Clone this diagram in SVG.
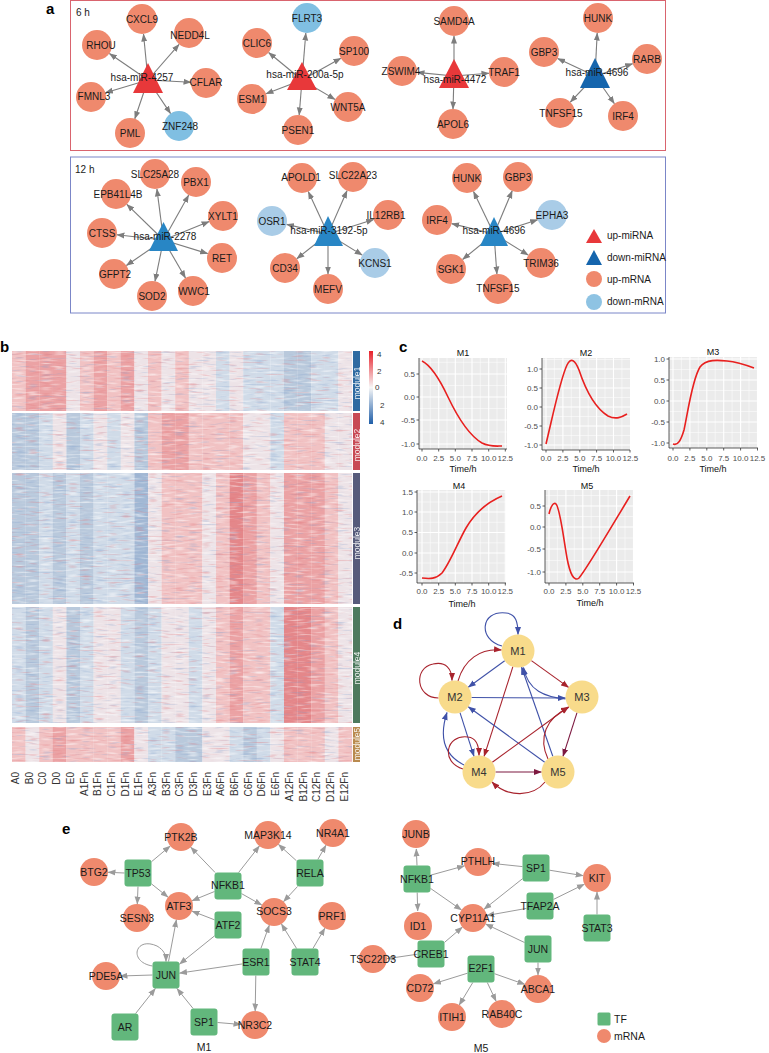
<svg xmlns="http://www.w3.org/2000/svg" xmlns:xlink="http://www.w3.org/1999/xlink" width="769" height="1053" viewBox="0 0 769 1053">
<style>
text{font-family:"Liberation Sans",Arial,Helvetica,sans-serif}
.pl{font-size:15px;font-weight:bold;fill:#000}
.nl{font-size:10px;fill:#1a1a1a;text-anchor:middle;dominant-baseline:central}
.el{font-size:10.5px;fill:#1a1a1a;text-anchor:middle;dominant-baseline:central}
.lg{font-size:10px;fill:#1a1a1a;dominant-baseline:central}
.up{fill:#ef896d}
.dA{fill:#80bfe2}
.dB{fill:#a9cce7}
.tu{fill:#e8383a}
.td{fill:#1565ad}
.tb{fill:#2886c5}
.ea path{fill:none;stroke:#7d7d7d;stroke-width:1.1;marker-end:url(#ma)}
.ee path{fill:none;stroke:#9b9b9b;stroke-width:1;marker-end:url(#me)}
.tf{fill:#62b77c}
.mo{fill:#f8db8b}
.ml{font-size:11px;fill:#333;text-anchor:middle;dominant-baseline:central}
.db{fill:none;stroke:#3f51a8;stroke-width:1.1;marker-end:url(#mb)}
.dr{fill:none;stroke:#a8232d;stroke-width:1.1;marker-end:url(#mr)}
.dp{fill:none;stroke:#7d1940;stroke-width:1.1;marker-end:url(#mp)}
.gb{fill:#ebebeb}
.gn{stroke:#fff;stroke-width:0.5;fill:none}
.gj{stroke:#fff;stroke-width:1.1;fill:none}
.ax{stroke:#333;stroke-width:0.8;fill:none}
.ty{font-size:8px;fill:#4d4d4d;text-anchor:end;dominant-baseline:central}
.tx{font-size:8px;fill:#4d4d4d;text-anchor:middle;dominant-baseline:central}
.tt{font-size:9px;fill:#111;text-anchor:middle;dominant-baseline:central}
.cv{fill:none;stroke:#e8201f;stroke-width:1.6}
.cl{font-size:10px;fill:#333;text-anchor:end}
.a{fill:#e4878a}.b{fill:#eba2a4}.c{fill:#f1c2c3}.d{fill:#ede3e7}.e{fill:#d0dbe8}.f{fill:#b9c9dc}.g{fill:#a2b8d4}
.mb{font-size:8.5px;fill:#fff;text-anchor:middle;dominant-baseline:central;opacity:0.9}
.cb{font-size:8px;fill:#333;dominant-baseline:central}
</style>
<defs>
<marker id="ma" markerWidth="8" markerHeight="7" refX="7.5" refY="3.5" orient="auto" markerUnits="userSpaceOnUse"><path d="M0,0.5 L8,3.5 L0,6.5 z" fill="#7d7d7d"/></marker>
<marker id="me" markerWidth="8" markerHeight="7" refX="7.5" refY="3.5" orient="auto" markerUnits="userSpaceOnUse"><path d="M0,0.5 L8,3.5 L0,6.5 z" fill="#9b9b9b"/></marker>
<marker id="mb" markerWidth="8" markerHeight="7" refX="7.5" refY="3.5" orient="auto" markerUnits="userSpaceOnUse"><path d="M0,0.5 L8,3.5 L0,6.5 z" fill="#3f51a8"/></marker>
<marker id="mr" markerWidth="8" markerHeight="7" refX="7.5" refY="3.5" orient="auto" markerUnits="userSpaceOnUse"><path d="M0,0.5 L8,3.5 L0,6.5 z" fill="#a8232d"/></marker>
<marker id="mp" markerWidth="8" markerHeight="7" refX="7.5" refY="3.5" orient="auto" markerUnits="userSpaceOnUse"><path d="M0,0.5 L8,3.5 L0,6.5 z" fill="#7d1940"/></marker>
<rect id="hc" width="13.75" height="1"/>
<linearGradient id="cbg" x1="0" y1="0" x2="0" y2="1"><stop offset="0" stop-color="#e8202a"/><stop offset="0.5" stop-color="#f7f7f7"/><stop offset="1" stop-color="#1f5ea8"/></linearGradient>
<filter id="nz" x="0" y="0" width="1" height="1" color-interpolation-filters="sRGB">
<feTurbulence type="fractalNoise" baseFrequency="0.075 0.5" numOctaves="1" seed="7" result="t"/>
<feColorMatrix in="t" type="matrix" values="0 0 0 0 1 0 0 0 0 1 0 0 0 0 1 3 0 0 0 -1.5" result="w"/>
<feColorMatrix in="t" type="matrix" values="0 0 0 0 0.5 0 0 0 0 0.62 0 0 0 0 0.8 0 2.5 0 0 -1.45" result="bl"/>
<feColorMatrix in="t" type="matrix" values="0 0 0 0 0.88 0 0 0 0 0.45 0 0 0 0 0.47 0 0 2.5 0 -1.45" result="rd"/>
<feMerge><feMergeNode in="w"/><feMergeNode in="bl"/><feMergeNode in="rd"/></feMerge>
</filter>
</defs>
<rect width="769" height="1053" fill="#fff"/>

<!-- Panel a -->
<g id="panel-a">
<text class="pl" x="46" y="14">a</text>
<rect x="70.5" y="0.5" width="595" height="150" fill="none" stroke="#d9646e" stroke-width="1"/>
<rect x="70.5" y="157" width="595" height="156" fill="none" stroke="#7b86c8" stroke-width="1"/>
<text class="lg" x="76" y="12">6 h</text>
<text class="lg" x="75" y="169">12 h</text>
</g>
<g id="edges-a" class="ea">
<path d="M148 80L143.5 34"/><path d="M148 80L179.1 44.3"/><path d="M148 80L109.4 53.5"/><path d="M148 80L191 82.2"/><path d="M148 80L105.4 92.7"/><path d="M148 80L134.8 118.8"/><path d="M148 80L170.6 113.6"/>
<path d="M302 80L305.8 33"/><path d="M302 80L268.6 52.5"/><path d="M302 80L340.9 58.3"/><path d="M302 80L266 93.7"/><path d="M302 80L335 99.4"/><path d="M302 80L299.2 115"/>
<path d="M454 76L454 36"/><path d="M454 76L417 72.4"/><path d="M454 76L489 73.2"/><path d="M454 76L453 109"/>
<path d="M595 76L597.2 33"/><path d="M595 76L557.6 58.4"/><path d="M595 76L632.7 63.7"/><path d="M595 76L570.3 102.1"/><path d="M595 76L614.4 103.7"/>
<path d="M163.5 240L156.9 188.9"/><path d="M163.5 240L188.7 195.1"/><path d="M163.5 240L126.8 204.4"/><path d="M163.5 240L209.1 221.6"/><path d="M163.5 240L116.9 234.7"/><path d="M163.5 240L207.7 253.6"/><path d="M163.5 240L126.4 265.5"/><path d="M163.5 240L155 281.3"/><path d="M163.5 240L185.5 278"/>
<path d="M328 234L308.3 191.6"/><path d="M328 234L347 190.7"/><path d="M328 234L286.6 224.4"/><path d="M328 234L373.7 219.5"/><path d="M328 234L362.2 255.1"/><path d="M328 234L296.8 258.7"/><path d="M328 234L328 274"/>
<path d="M494 234L473.5 191.5"/><path d="M494 234L512.2 190.8"/><path d="M494 234L451.6 223.6"/><path d="M494 234L537.7 219.7"/><path d="M494 234L462.6 259.5"/><path d="M494 234L528.2 255.1"/><path d="M494 234L496.9 274"/>
</g>
<g id="a-6h-miR-4257">
<g id="n-CXCL9"><circle class="up" cx="142" cy="19" r="15"/><text class="nl" x="142" y="19">CXCL9</text></g>
<g id="n-NEDD4L"><circle class="up" cx="189" cy="33" r="15"/><text class="nl" x="190" y="35">NEDD4L</text></g>
<g id="n-RHOU"><circle class="up" cx="97" cy="45" r="15"/><text class="nl" x="101" y="45">RHOU</text></g>
<g id="n-CFLAR"><circle class="up" cx="206" cy="83" r="15"/><text class="nl" x="206" y="82">CFLAR</text></g>
<g id="n-FMNL3"><circle class="up" cx="91" cy="97" r="15"/><text class="nl" x="94" y="96">FMNL3</text></g>
<g id="n-PML"><circle class="up" cx="130" cy="133" r="15"/><text class="nl" x="130" y="133">PML</text></g>
<g id="n-ZNF248"><circle class="dA" cx="179" cy="126" r="15"/><text class="nl" x="180" y="126">ZNF248</text></g>
<g id="n-miR-4257"><polygon class="tu" points="148,63 133,93 163,93"/><text class="nl" x="142" y="77">hsa-miR-4257</text></g>
</g>
<g id="a-6h-miR-200a">
<g id="n-FLRT3"><circle class="dA" cx="307" cy="18" r="15"/><text class="nl" x="307" y="18">FLRT3</text></g>
<g id="n-CLIC6"><circle class="up" cx="257" cy="43" r="15"/><text class="nl" x="257" y="43">CLIC6</text></g>
<g id="n-SP100"><circle class="up" cx="354" cy="51" r="15"/><text class="nl" x="354" y="51">SP100</text></g>
<g id="n-ESM1"><circle class="up" cx="252" cy="99" r="15"/><text class="nl" x="252" y="99">ESM1</text></g>
<g id="n-WNT5A"><circle class="up" cx="348" cy="107" r="15"/><text class="nl" x="348" y="107">WNT5A</text></g>
<g id="n-PSEN1"><circle class="up" cx="298" cy="130" r="15"/><text class="nl" x="298" y="130">PSEN1</text></g>
<g id="n-miR-200a"><polygon class="tu" points="302,62 287,90 317,90"/><text class="nl" x="305" y="74">hsa-miR-200a-5p</text></g>
</g>
<g id="a-6h-miR-4472">
<g id="n-SAMD4A"><circle class="up" cx="454" cy="21" r="15"/><text class="nl" x="454" y="21">SAMD4A</text></g>
<g id="n-ZSWIM4"><circle class="up" cx="402" cy="71" r="15"/><text class="nl" x="401" y="71">ZSWIM4</text></g>
<g id="n-TRAF1"><circle class="up" cx="504" cy="72" r="15"/><text class="nl" x="504" y="72">TRAF1</text></g>
<g id="n-APOL6"><circle class="up" cx="453" cy="124" r="15"/><text class="nl" x="453" y="124">APOL6</text></g>
<g id="n-miR-4472"><polygon class="tu" points="454,59 439,88 469,88"/><text class="nl" x="455" y="79">hsa-miR-4472</text></g>
</g>
<g id="a-6h-miR-4696">
<g id="n-HUNK6"><circle class="up" cx="598" cy="18" r="15"/><text class="nl" x="598" y="18">HUNK</text></g>
<g id="n-GBP36"><circle class="up" cx="544" cy="52" r="15"/><text class="nl" x="544" y="52">GBP3</text></g>
<g id="n-RARB"><circle class="up" cx="647" cy="59" r="15"/><text class="nl" x="647" y="59">RARB</text></g>
<g id="n-TNFSF156"><circle class="up" cx="560" cy="113" r="15"/><text class="nl" x="561" y="113">TNFSF15</text></g>
<g id="n-IRF46"><circle class="up" cx="623" cy="116" r="15"/><text class="nl" x="623" y="116">IRF4</text></g>
<g id="n-miR-4696-6"><polygon class="td" points="595,58 580,88 610,88"/><text class="nl" x="597" y="72">hsa-miR-4696</text></g>
</g>
<g id="a-12h-miR-2278">
<g id="n-SLC25A28"><circle class="up" cx="155" cy="174" r="15"/><text class="nl" x="155" y="174">SLC25A28</text></g>
<g id="n-PBX1"><circle class="up" cx="196" cy="182" r="15"/><text class="nl" x="196" y="182">PBX1</text></g>
<g id="n-EPB41L4B"><circle class="up" cx="116" cy="194" r="15"/><text class="nl" x="118" y="194">EPB41L4B</text></g>
<g id="n-XYLT1"><circle class="up" cx="223" cy="216" r="15"/><text class="nl" x="223" y="216">XYLT1</text></g>
<g id="n-CTSS"><circle class="up" cx="102" cy="233" r="15"/><text class="nl" x="102" y="233">CTSS</text></g>
<g id="n-RET"><circle class="up" cx="222" cy="258" r="15"/><text class="nl" x="222" y="258">RET</text></g>
<g id="n-GFPT2"><circle class="up" cx="114" cy="274" r="15"/><text class="nl" x="115" y="274">GFPT2</text></g>
<g id="n-SOD2"><circle class="up" cx="152" cy="296" r="15"/><text class="nl" x="152" y="296">SOD2</text></g>
<g id="n-WWC1"><circle class="up" cx="193" cy="291" r="15"/><text class="nl" x="194" y="291">WWC1</text></g>
<g id="n-miR-2278"><polygon class="tb" points="163.5,222 149,251 178,251"/><text class="nl" x="165" y="236">hsa-miR-2278</text></g>
</g>
<g id="a-12h-miR-3192">
<g id="n-APOLD1"><circle class="up" cx="302" cy="178" r="15"/><text class="nl" x="301" y="177">APOLD1</text></g>
<g id="n-SLC22A23"><circle class="up" cx="353" cy="177" r="15"/><text class="nl" x="353" y="175">SLC22A23</text></g>
<g id="n-OSR1"><circle class="dB" cx="272" cy="221" r="15"/><text class="nl" x="272" y="221">OSR1</text></g>
<g id="n-IL12RB1"><circle class="up" cx="388" cy="215" r="15"/><text class="nl" x="386" y="215">IL12RB1</text></g>
<g id="n-KCNS1"><circle class="dB" cx="375" cy="263" r="15"/><text class="nl" x="375" y="263">KCNS1</text></g>
<g id="n-CD34"><circle class="up" cx="285" cy="268" r="15"/><text class="nl" x="285" y="268">CD34</text></g>
<g id="n-MEFV"><circle class="up" cx="328" cy="289" r="15"/><text class="nl" x="328" y="289">MEFV</text></g>
<g id="n-miR-3192"><polygon class="tb" points="328,216 314,246 343,246"/><text class="nl" x="329" y="230">hsa-miR-3192-5p</text></g>
</g>
<g id="a-12h-miR-4696">
<g id="n-HUNK12"><circle class="up" cx="467" cy="178" r="15"/><text class="nl" x="467" y="178">HUNK</text></g>
<g id="n-GBP312"><circle class="up" cx="518" cy="177" r="15"/><text class="nl" x="518" y="177">GBP3</text></g>
<g id="n-IRF412"><circle class="up" cx="437" cy="220" r="15"/><text class="nl" x="437" y="220">IRF4</text></g>
<g id="n-EPHA3"><circle class="dB" cx="552" cy="215" r="15"/><text class="nl" x="552" y="215">EPHA3</text></g>
<g id="n-SGK1"><circle class="up" cx="451" cy="269" r="15"/><text class="nl" x="451" y="269">SGK1</text></g>
<g id="n-TRIM36"><circle class="up" cx="541" cy="263" r="15"/><text class="nl" x="541" y="263">TRIM36</text></g>
<g id="n-TNFSF1512"><circle class="up" cx="498" cy="289" r="15"/><text class="nl" x="498" y="288">TNFSF15</text></g>
<g id="n-miR-4696-12"><polygon class="tb" points="494,217 480,246 508,246"/><text class="nl" x="494" y="230">hsa-miR-4696</text></g>
</g>
<g id="legend-a">
<polygon class="tu" points="594,229 586,243 602,243"/><text class="lg" x="607" y="235">up-miRNA</text>
<polygon class="td" points="594,250 586,265 602,265"/><text class="lg" x="607" y="257">down-miRNA</text>
<circle class="up" cx="594" cy="279" r="8"/><text class="lg" x="607" y="279">up-mRNA</text>
<circle fill="#8ec3e3" cx="594" cy="302" r="8"/><text class="lg" x="607" y="301">down-mRNA</text>
</g>

<!-- Panel b -->
<g id="panel-b">
<text class="pl" x="0" y="352">b</text>
<g transform="translate(0,351) scale(1,60)">
<use href="#hc" x="12" class="c"/><use href="#hc" x="25.6" class="b"/><use href="#hc" x="39.2" class="b"/><use href="#hc" x="52.8" class="b"/><use href="#hc" x="66.4" class="d"/><use href="#hc" x="80" class="c"/><use href="#hc" x="93.6" class="b"/><use href="#hc" x="107.2" class="c"/><use href="#hc" x="120.8" class="b"/><use href="#hc" x="134.4" class="d"/><use href="#hc" x="148" class="c"/><use href="#hc" x="161.6" class="d"/><use href="#hc" x="175.2" class="c"/><use href="#hc" x="188.8" class="d"/><use href="#hc" x="202.4" class="d"/><use href="#hc" x="216" class="e"/><use href="#hc" x="229.6" class="d"/><use href="#hc" x="243.2" class="e"/><use href="#hc" x="256.8" class="e"/><use href="#hc" x="270.4" class="e"/><use href="#hc" x="284" class="f"/><use href="#hc" x="297.6" class="f"/><use href="#hc" x="311.2" class="e"/><use href="#hc" x="324.8" class="e"/><use href="#hc" x="338.4" class="d"/>
</g>
<g transform="translate(0,413) scale(1,57)">
<use href="#hc" x="12" class="f"/><use href="#hc" x="25.6" class="f"/><use href="#hc" x="39.2" class="e"/><use href="#hc" x="52.8" class="d"/><use href="#hc" x="66.4" class="f"/><use href="#hc" x="80" class="e"/><use href="#hc" x="93.6" class="d"/><use href="#hc" x="107.2" class="e"/><use href="#hc" x="120.8" class="d"/><use href="#hc" x="134.4" class="f"/><use href="#hc" x="148" class="c"/><use href="#hc" x="161.6" class="b"/><use href="#hc" x="175.2" class="b"/><use href="#hc" x="188.8" class="c"/><use href="#hc" x="202.4" class="c"/><use href="#hc" x="216" class="c"/><use href="#hc" x="229.6" class="c"/><use href="#hc" x="243.2" class="d"/><use href="#hc" x="256.8" class="d"/><use href="#hc" x="270.4" class="e"/><use href="#hc" x="284" class="c"/><use href="#hc" x="297.6" class="c"/><use href="#hc" x="311.2" class="c"/><use href="#hc" x="324.8" class="d"/><use href="#hc" x="338.4" class="d"/>
</g>
<g transform="translate(0,473) scale(1,131)">
<use href="#hc" x="12" class="f"/><use href="#hc" x="25.6" class="f"/><use href="#hc" x="39.2" class="e"/><use href="#hc" x="52.8" class="f"/><use href="#hc" x="66.4" class="e"/><use href="#hc" x="80" class="f"/><use href="#hc" x="93.6" class="e"/><use href="#hc" x="107.2" class="e"/><use href="#hc" x="120.8" class="e"/><use href="#hc" x="134.4" class="g"/><use href="#hc" x="148" class="d"/><use href="#hc" x="161.6" class="c"/><use href="#hc" x="175.2" class="c"/><use href="#hc" x="188.8" class="c"/><use href="#hc" x="202.4" class="d"/><use href="#hc" x="216" class="c"/><use href="#hc" x="229.6" class="a"/><use href="#hc" x="243.2" class="b"/><use href="#hc" x="256.8" class="c"/><use href="#hc" x="270.4" class="d"/><use href="#hc" x="284" class="b"/><use href="#hc" x="297.6" class="b"/><use href="#hc" x="311.2" class="b"/><use href="#hc" x="324.8" class="c"/><use href="#hc" x="338.4" class="d"/>
</g>
<g transform="translate(0,607) scale(1,116)">
<use href="#hc" x="12" class="e"/><use href="#hc" x="25.6" class="f"/><use href="#hc" x="39.2" class="e"/><use href="#hc" x="52.8" class="d"/><use href="#hc" x="66.4" class="f"/><use href="#hc" x="80" class="e"/><use href="#hc" x="93.6" class="d"/><use href="#hc" x="107.2" class="d"/><use href="#hc" x="120.8" class="e"/><use href="#hc" x="134.4" class="f"/><use href="#hc" x="148" class="e"/><use href="#hc" x="161.6" class="d"/><use href="#hc" x="175.2" class="d"/><use href="#hc" x="188.8" class="e"/><use href="#hc" x="202.4" class="d"/><use href="#hc" x="216" class="c"/><use href="#hc" x="229.6" class="b"/><use href="#hc" x="243.2" class="c"/><use href="#hc" x="256.8" class="c"/><use href="#hc" x="270.4" class="e"/><use href="#hc" x="284" class="a"/><use href="#hc" x="297.6" class="a"/><use href="#hc" x="311.2" class="b"/><use href="#hc" x="324.8" class="c"/><use href="#hc" x="338.4" class="d"/>
</g>
<g transform="translate(0,727) scale(1,35)">
<use href="#hc" x="12" class="c"/><use href="#hc" x="25.6" class="d"/><use href="#hc" x="39.2" class="c"/><use href="#hc" x="52.8" class="b"/><use href="#hc" x="66.4" class="c"/><use href="#hc" x="80" class="c"/><use href="#hc" x="93.6" class="c"/><use href="#hc" x="107.2" class="c"/><use href="#hc" x="120.8" class="b"/><use href="#hc" x="134.4" class="d"/><use href="#hc" x="148" class="e"/><use href="#hc" x="161.6" class="e"/><use href="#hc" x="175.2" class="f"/><use href="#hc" x="188.8" class="f"/><use href="#hc" x="202.4" class="d"/><use href="#hc" x="216" class="d"/><use href="#hc" x="229.6" class="e"/><use href="#hc" x="243.2" class="f"/><use href="#hc" x="256.8" class="e"/><use href="#hc" x="270.4" class="d"/><use href="#hc" x="284" class="c"/><use href="#hc" x="297.6" class="c"/><use href="#hc" x="311.2" class="c"/><use href="#hc" x="324.8" class="d"/><use href="#hc" x="338.4" class="c"/>
</g>
<rect x="12" y="351" width="340" height="411" fill="#000" filter="url(#nz)" opacity="0.62"/>
<g fill="#fff">
<rect x="11" y="411" width="342" height="2"/><rect x="11" y="470" width="342" height="3"/><rect x="11" y="604" width="342" height="3"/><rect x="11" y="723" width="342" height="4"/>
</g>
<rect x="353" y="351" width="7" height="60" fill="#2f6aa1"/>
<rect x="353" y="413" width="7" height="57" fill="#c84a55"/>
<rect x="353" y="473" width="7" height="131" fill="#575b7b"/>
<rect x="353" y="607" width="7" height="116" fill="#4e7a5e"/>
<rect x="353" y="727" width="7" height="35" fill="#b98a4e"/>
<text class="mb" transform="translate(356.5,383) rotate(-90)">module1</text>
<text class="mb" transform="translate(356.5,445) rotate(-90)">module2</text>
<text class="mb" transform="translate(356.5,543) rotate(-90)">module3</text>
<text class="mb" transform="translate(356.5,668) rotate(-90)">module4</text>
<text class="mb" transform="translate(356.5,744) rotate(-90)">module5</text>
<rect x="369" y="351" width="4" height="73" fill="url(#cbg)"/>
<text class="cb" x="377" y="354">4</text>
<text class="cb" x="377" y="371">2</text>
<text class="cb" x="375" y="387">0</text>
<text class="cb" x="380" y="405">2</text>
<text class="cb" x="380" y="422">4</text>
<g id="col-labels">
<text class="cl" x="19" y="772" transform="rotate(-90,19,772)">A0</text>
<text class="cl" x="32.7" y="772" transform="rotate(-90,32.7,772)">B0</text>
<text class="cl" x="46.4" y="772" transform="rotate(-90,46.4,772)">C0</text>
<text class="cl" x="60.1" y="772" transform="rotate(-90,60.1,772)">D0</text>
<text class="cl" x="73.8" y="772" transform="rotate(-90,73.8,772)">E0</text>
<text class="cl" x="87.5" y="772" transform="rotate(-90,87.5,772)">A1Fn</text>
<text class="cl" x="101.1" y="772" transform="rotate(-90,101.1,772)">B1Fn</text>
<text class="cl" x="114.8" y="772" transform="rotate(-90,114.8,772)">C1Fn</text>
<text class="cl" x="128.5" y="772" transform="rotate(-90,128.5,772)">D1Fn</text>
<text class="cl" x="142.2" y="772" transform="rotate(-90,142.2,772)">E1Fn</text>
<text class="cl" x="155.9" y="772" transform="rotate(-90,155.9,772)">A3Fn</text>
<text class="cl" x="169.6" y="772" transform="rotate(-90,169.6,772)">B3Fn</text>
<text class="cl" x="183.3" y="772" transform="rotate(-90,183.3,772)">C3Fn</text>
<text class="cl" x="197" y="772" transform="rotate(-90,197,772)">D3Fn</text>
<text class="cl" x="210.7" y="772" transform="rotate(-90,210.7,772)">E3Fn</text>
<text class="cl" x="224.4" y="772" transform="rotate(-90,224.4,772)">A6Fn</text>
<text class="cl" x="238" y="772" transform="rotate(-90,238,772)">B6Fn</text>
<text class="cl" x="251.7" y="772" transform="rotate(-90,251.7,772)">C6Fn</text>
<text class="cl" x="265.4" y="772" transform="rotate(-90,265.4,772)">D6Fn</text>
<text class="cl" x="279.1" y="772" transform="rotate(-90,279.1,772)">E6Fn</text>
<text class="cl" x="292.8" y="772" transform="rotate(-90,292.8,772)">A12Fn</text>
<text class="cl" x="306.5" y="772" transform="rotate(-90,306.5,772)">B12Fn</text>
<text class="cl" x="320.2" y="772" transform="rotate(-90,320.2,772)">C12Fn</text>
<text class="cl" x="333.9" y="772" transform="rotate(-90,333.9,772)">D12Fn</text>
<text class="cl" x="347.6" y="772" transform="rotate(-90,347.6,772)">E12Fn</text>
</g>
</g>

<!-- Panel c -->
<g id="panel-c">
<text class="pl" x="399" y="352">c</text>
<g id="plot-M1">
<rect class="gb" x="419" y="358" width="88" height="91"/>
<path class="gn" d="M430.3 358V449M447 358V449M463.7 358V449M480.3 358V449M497 358V449M419 362.3H507M419 385.5H507M419 408.5H507M419 432H507"/>
<path class="gj" d="M422 358V449M438.7 358V449M455.3 358V449M472 358V449M488.7 358V449M505.3 358V449M419 374H507M419 397H507M419 420H507M419 444H507"/>
<path class="ax" d="M419 358V449H507M416.5 374H419M416.5 397H419M416.5 420H419M416.5 444H419M422 449V451.5M438.7 449V451.5M455.3 449V451.5M472 449V451.5M488.7 449V451.5M505.3 449V451.5"/>
<text class="ty" x="415" y="374">0.5</text><text class="ty" x="415" y="397">0.0</text><text class="ty" x="415" y="420">-0.5</text><text class="ty" x="415" y="444">-1.0</text>
<text class="tx" x="422" y="458">0.0</text><text class="tx" x="438.7" y="458">2.5</text><text class="tx" x="455.3" y="458">5.0</text><text class="tx" x="472" y="458">7.5</text><text class="tx" x="488.7" y="458">10.0</text><text class="tx" x="505.3" y="458">12.5</text>
<text class="tt" x="463" y="353">M1</text><text class="tt" x="463" y="469">Time/h</text>
<path class="cv" d="M422 361C432 366 440 380 448 397C458 418 470 436 482 443C490 447 496 446 502 446"/>
</g>
<g id="plot-M2">
<rect class="gb" x="542" y="358" width="88" height="92"/>
<path class="gn" d="M554.4 358V450M571.3 358V450M588.2 358V450M605 358V450M621.9 358V450M542 359.5H630M542 378.5H630M542 397.5H630M542 416.5H630M542 435.5H630"/>
<path class="gj" d="M546 358V450M562.9 358V450M579.8 358V450M596.6 358V450M613.5 358V450M542 369H630M542 388H630M542 407H630M542 426H630M542 445H630"/>
<path class="ax" d="M542 358V450H630M539.5 369H542M539.5 388H542M539.5 407H542M539.5 426H542M539.5 445H542M546 450V452.5M562.9 450V452.5M579.8 450V452.5M596.6 450V452.5M613.5 450V452.5M630 450V452.5"/>
<text class="ty" x="538" y="369">1.0</text><text class="ty" x="538" y="388">0.5</text><text class="ty" x="538" y="407">0.0</text><text class="ty" x="538" y="426">-0.5</text><text class="ty" x="538" y="445">-1.0</text>
<text class="tx" x="546" y="458">0.0</text><text class="tx" x="562.9" y="458">2.5</text><text class="tx" x="579.8" y="458">5.0</text><text class="tx" x="596.6" y="458">7.5</text><text class="tx" x="613.5" y="458">10.0</text><text class="tx" x="630.4" y="458">12.5</text>
<text class="tt" x="586" y="353">M2</text><text class="tt" x="586" y="469">Time/h</text>
<path class="cv" d="M546 444C553 415 560 380 567 365C571 357 575 360 579 370C585 388 595 408 608 416C616 420 622 417 627 414"/>
</g>
<g id="plot-M3">
<rect class="gb" x="669" y="357" width="89" height="91"/>
<path class="gn" d="M681.4 357V448M698.3 357V448M715.2 357V448M732.1 357V448M749 357V448M669 369.5H758M669 390.5H758M669 411.5H758M669 432.5H758"/>
<path class="gj" d="M673 357V448M689.9 357V448M706.8 357V448M723.7 357V448M740.6 357V448M757.5 357V448M669 359H758M669 380H758M669 401H758M669 422H758M669 443H758"/>
<path class="ax" d="M669 357V448H758M666.5 359H669M666.5 380H669M666.5 401H669M666.5 422H669M666.5 443H669M673 448V450.5M689.9 448V450.5M706.8 448V450.5M723.7 448V450.5M740.6 448V450.5M757.5 448V450.5"/>
<text class="ty" x="665" y="359">1.0</text><text class="ty" x="665" y="380">0.5</text><text class="ty" x="665" y="401">0.0</text><text class="ty" x="665" y="422">-0.5</text><text class="ty" x="665" y="443">-1.0</text>
<text class="tx" x="673" y="458">0.0</text><text class="tx" x="689.9" y="458">2.5</text><text class="tx" x="706.8" y="458">5.0</text><text class="tx" x="723.7" y="458">7.5</text><text class="tx" x="740.6" y="458">10.0</text><text class="tx" x="757.5" y="458">12.5</text>
<text class="tt" x="713" y="352">M3</text><text class="tt" x="713" y="469">Time/h</text>
<path class="cv" d="M673 444C678 446 681 440 684 430C688 412 692 380 700 367C706 359 718 360 727 361C738 362 746 365 754 368"/>
</g>
<g id="plot-M4">
<rect class="gb" x="417" y="490" width="89" height="93"/>
<path class="gn" d="M430.3 490V583M447 490V583M463.7 490V583M480.3 490V583M497 490V583M417 502H506M417 522.3H506M417 542.8H506M417 563H506"/>
<path class="gj" d="M422 490V583M438.7 490V583M455.3 490V583M472 490V583M488.7 490V583M505.3 490V583M417 492H506M417 512H506M417 532.5H506M417 553H506M417 573H506"/>
<path class="ax" d="M417 490V583H506M414.5 492H417M414.5 512H417M414.5 532.5H417M414.5 553H417M414.5 573H417M422 583V585.5M438.7 583V585.5M455.3 583V585.5M472 583V585.5M488.7 583V585.5M505.3 583V585.5"/>
<text class="ty" x="413" y="492">1.5</text><text class="ty" x="413" y="512">1.0</text><text class="ty" x="413" y="532.5">0.5</text><text class="ty" x="413" y="553">0.0</text><text class="ty" x="413" y="573">-0.5</text>
<text class="tx" x="422" y="591">0.0</text><text class="tx" x="438.7" y="591">2.5</text><text class="tx" x="455.3" y="591">5.0</text><text class="tx" x="472" y="591">7.5</text><text class="tx" x="488.7" y="591">10.0</text><text class="tx" x="505.3" y="591">12.5</text>
<text class="tt" x="459" y="486">M4</text><text class="tt" x="462" y="604">Time/h</text>
<path class="cv" d="M422 578C430 579 436 579 442 573C450 563 458 542 466 528C476 511 488 502 502 496"/>
</g>
<g id="plot-M5">
<rect class="gb" x="545" y="490" width="89" height="93"/>
<path class="gn" d="M557.4 490V583M574.3 490V583M591.2 490V583M608.1 490V583M625 490V583M545 495.5H634M545 516.5H634M545 538H634M545 560.5H634"/>
<path class="gj" d="M549 490V583M565.9 490V583M582.8 490V583M599.7 490V583M616.6 490V583M633.5 490V583M545 506H634M545 527H634M545 549H634M545 572H634"/>
<path class="ax" d="M545 490V583H634M542.5 506H545M542.5 527H545M542.5 549H545M542.5 572H545M549 583V585.5M565.9 583V585.5M582.8 583V585.5M599.7 583V585.5M616.6 583V585.5M633.5 583V585.5"/>
<text class="ty" x="541" y="506">0.5</text><text class="ty" x="541" y="527">0.0</text><text class="ty" x="541" y="549">-0.5</text><text class="ty" x="541" y="572">-1.0</text>
<text class="tx" x="549" y="591">0.0</text><text class="tx" x="565.9" y="591">2.5</text><text class="tx" x="582.8" y="591">5.0</text><text class="tx" x="599.7" y="591">7.5</text><text class="tx" x="616.6" y="591">10.0</text><text class="tx" x="633.5" y="591">12.5</text>
<text class="tt" x="587" y="486">M5</text><text class="tt" x="590" y="603">Time/h</text>
<path class="cv" d="M549 514C551 505 554 502 556 504C560 508 563 535 567 558C570 574 574 582 579 578C586 570 600 546 630 496"/>
</g>
</g>

<!-- Panel d -->
<text class="pl" x="393" y="629">d</text>
<g id="edges-d">
<path class="db" d="M502 646C478 640 480 610 506 613C516 614 518 622 518 634.5"/>
<path class="dr" d="M458 681C464 660 480 648 501.5 650"/>
<path class="dr" d="M438.5 698C416 698 413 668 433 664C446 661 452 669 452 680.5"/>
<path class="db" d="M504.7 660.7L468.3 687.3"/>
<path class="dr" d="M531.4 660.6L568.6 687.4"/>
<path class="dr" d="M512.9 666.7L484.1 756.3"/>
<path class="db" d="M471.5 697.5L565.5 698"/>
<path class="db" d="M565.5 699C545 697 528 691 523.5 667.5"/>
<path class="db" d="M552.8 756.3L521.5 667"/>
<path class="dp" d="M577 712.7L563 756.3"/>
<path class="db" d="M544.7 762.3L468.3 706.7"/>
<path class="dr" d="M492.3 762.3L568.7 706.7"/>
<path class="dr" d="M548 759C538 738 546 718 568.5 707.5"/>
<path class="db" d="M460 712.7L474 756.3"/>
<path class="db" d="M464 765C446 756 438 740 447 712.5"/>
<path class="dr" d="M463 769C440 762 446 734 468 737C477 738 479 746 479 755.5"/>
<path class="dp" d="M495.5 772L541.5 772"/>
<path class="dr" d="M545 782C533 797 508 798 492 782"/>
</g>
<g id="d-M1"><circle class="mo" cx="518" cy="651" r="16.5"/><text class="ml" x="518" y="651">M1</text></g>
<g id="d-M2"><circle class="mo" cx="455" cy="697" r="16.5"/><text class="ml" x="455" y="697">M2</text></g>
<g id="d-M3"><circle class="mo" cx="582" cy="697" r="16.5"/><text class="ml" x="582" y="697">M3</text></g>
<g id="d-M4"><circle class="mo" cx="479" cy="772" r="16.5"/><text class="ml" x="479" y="772">M4</text></g>
<g id="d-M5"><circle class="mo" cx="558" cy="772" r="16.5"/><text class="ml" x="558" y="772">M5</text></g>

<!-- Panel e -->
<text class="pl" x="62" y="834">e</text>
<g id="edges-e" class="ee">
<path d="M124.5 873L108 872.3"/><path d="M151.5 861.7L170.2 846"/><path d="M138 886.5L137.3 904"/><path d="M151.5 883.9L168.1 897.2"/><path d="M215.1 872.5L190.7 847.1"/><path d="M238.6 872.5L259.4 846"/><path d="M214.5 891.5L192 900.7"/><path d="M241.5 893.6L261.8 905.1"/><path d="M296.5 860.8L278.4 844.4"/><path d="M317.8 859.5L326 845.2"/><path d="M297.5 886.5L283.5 901.7"/><path d="M214.5 919.8L192 911.1"/><path d="M214.5 935.9L179.5 964.1"/><path d="M260.9 948.5L269.3 925.2"/><path d="M242.5 963.9L179.5 973.1"/><path d="M255.8 975.5L255.2 1011"/><path d="M296.6 948.5L281.4 923.9"/><path d="M312.9 948.5L324.9 928.1"/><path d="M168.5 961.5L176.4 919.8"/><path d="M152.5 975L120 976"/><path d="M135.6 1013.5L155.4 988.5"/><path d="M193.1 1008.5L176.9 988.5"/><path d="M217.5 1022.5L241 1024.5"/>
<path d="M152.5 966C128 962 135 936 157 946C164 950 166 955 166 961.5"/>
<path d="M417 865.5L416.3 849"/><path d="M430.5 875.2L464.5 865.8"/><path d="M417.2 892.5L417.7 911"/><path d="M430.5 888.4L461.5 910"/><path d="M522.5 866.6L492 863.4"/><path d="M549.5 870.2L583.2 875.7"/><path d="M522.5 878.7L484 909.3"/><path d="M526.5 908.4L486.8 915.5"/><path d="M553.5 899.4L584.4 884.2"/><path d="M597 914.5L597 892"/><path d="M524.5 942.5L485.6 924"/><path d="M538 962.5L538 975"/><path d="M444.5 942.4L462.4 927.1"/><path d="M417.5 954.2L387 958.7"/><path d="M467.5 973.2L433.4 983.8"/><path d="M494.5 973.7L524.8 984.4"/><path d="M472.8 982.5L459.2 1005"/><path d="M487.3 982.5L496.1 1001.3"/>
</g>
<g id="e-M1">
<g id="e1-PTK2B"><circle class="up" cx="181" cy="837" r="14"/><text class="el" x="181" y="837">PTK2B</text></g>
<g id="e1-MAP3K14"><circle class="up" cx="268" cy="835" r="14"/><text class="el" x="268" y="835">MAP3K14</text></g>
<g id="e1-NR4A1"><circle class="up" cx="333" cy="833" r="14"/><text class="el" x="333" y="833">NR4A1</text></g>
<g id="e1-BTG2"><circle class="up" cx="94" cy="872" r="14"/><text class="el" x="94" y="872">BTG2</text></g>
<g id="e1-SESN3"><circle class="up" cx="137" cy="918" r="14"/><text class="el" x="137" y="918">SESN3</text></g>
<g id="e1-ATF3"><circle class="up" cx="179" cy="906" r="14"/><text class="el" x="179" y="906">ATF3</text></g>
<g id="e1-SOCS3"><circle class="up" cx="274" cy="912" r="14"/><text class="el" x="274" y="911">SOCS3</text></g>
<g id="e1-PRF1"><circle class="up" cx="332" cy="916" r="14"/><text class="el" x="332" y="916">PRF1</text></g>
<g id="e1-PDE5A"><circle class="up" cx="106" cy="976" r="14"/><text class="el" x="106" y="976">PDE5A</text></g>
<g id="e1-NR3C2"><circle class="up" cx="255" cy="1025" r="14"/><text class="el" x="255" y="1025">NR3C2</text></g>
<g id="e1-TP53"><rect class="tf" x="124.5" y="859.5" width="27" height="27" rx="3"/><text class="el" x="138" y="873">TP53</text></g>
<g id="e1-NFKB1"><rect class="tf" x="214.5" y="872.5" width="27" height="27" rx="3"/><text class="el" x="228" y="885">NFKB1</text></g>
<g id="e1-RELA"><rect class="tf" x="296.5" y="859.5" width="27" height="27" rx="3"/><text class="el" x="310" y="873">RELA</text></g>
<g id="e1-ATF2"><rect class="tf" x="214.5" y="911.5" width="27" height="27" rx="3"/><text class="el" x="228" y="925">ATF2</text></g>
<g id="e1-ESR1"><rect class="tf" x="242.5" y="948.5" width="27" height="27" rx="3"/><text class="el" x="256" y="962">ESR1</text></g>
<g id="e1-STAT4"><rect class="tf" x="291.5" y="948.5" width="27" height="27" rx="3"/><text class="el" x="305" y="962">STAT4</text></g>
<g id="e1-JUN"><rect class="tf" x="152.5" y="961.5" width="27" height="27" rx="3"/><text class="el" x="166" y="975">JUN</text></g>
<g id="e1-AR"><rect class="tf" x="111.5" y="1013.5" width="27" height="27" rx="3"/><text class="el" x="125" y="1027">AR</text></g>
<g id="e1-SP1"><rect class="tf" x="190.5" y="1008.5" width="27" height="27" rx="3"/><text class="el" x="204" y="1022">SP1</text></g>
<text class="el" x="204" y="1047">M1</text>
</g>
<g id="e-M5">
<g id="e5-TSC22D3"><circle class="up" cx="373" cy="959" r="14"/><text class="el" x="373" y="959">TSC22D3</text></g>
<g id="e5-JUNB"><circle class="up" cx="416" cy="834" r="14"/><text class="el" x="416" y="834">JUNB</text></g>
<g id="e5-PTHLH"><circle class="up" cx="478" cy="862" r="14"/><text class="el" x="478" y="861">PTHLH</text></g>
<g id="e5-KIT"><circle class="up" cx="597" cy="878" r="14"/><text class="el" x="597" y="878">KIT</text></g>
<g id="e5-ID1"><circle class="up" cx="418" cy="926" r="14"/><text class="el" x="418" y="926">ID1</text></g>
<g id="e5-CYP11A1"><circle class="up" cx="473" cy="918" r="14"/><text class="el" x="473" y="918">CYP11A1</text></g>
<g id="e5-CD72"><circle class="up" cx="420" cy="988" r="14"/><text class="el" x="420" y="988">CD72</text></g>
<g id="e5-ABCA1"><circle class="up" cx="538" cy="989" r="14"/><text class="el" x="538" y="989">ABCA1</text></g>
<g id="e5-ITIH1"><circle class="up" cx="452" cy="1017" r="14"/><text class="el" x="452" y="1017">ITIH1</text></g>
<g id="e5-RAB40C"><circle class="up" cx="502" cy="1014" r="14"/><text class="el" x="502" y="1014">RAB40C</text></g>
<g id="e5-NFKB1"><rect class="tf" x="403.5" y="865.5" width="27" height="27" rx="3"/><text class="el" x="417" y="879">NFKB1</text></g>
<g id="e5-SP1"><rect class="tf" x="522.5" y="854.5" width="27" height="27" rx="3"/><text class="el" x="536" y="868">SP1</text></g>
<g id="e5-TFAP2A"><rect class="tf" x="526.5" y="892.5" width="27" height="27" rx="3"/><text class="el" x="540" y="906">TFAP2A</text></g>
<g id="e5-STAT3"><rect class="tf" x="583.5" y="914.5" width="27" height="27" rx="3"/><text class="el" x="597" y="928">STAT3</text></g>
<g id="e5-CREB1"><rect class="tf" x="417.5" y="940.5" width="27" height="27" rx="3"/><text class="el" x="431" y="954">CREB1</text></g>
<g id="e5-JUN"><rect class="tf" x="524.5" y="935.5" width="27" height="27" rx="3"/><text class="el" x="538" y="949">JUN</text></g>
<g id="e5-E2F1"><rect class="tf" x="467.5" y="955.5" width="27" height="27" rx="3"/><text class="el" x="481" y="968">E2F1</text></g>
<text class="el" x="481" y="1048">M5</text>
</g>
<g id="legend-e">
<rect class="tf" x="597.5" y="1012.5" width="13" height="13" rx="1.5"/><text class="lg" x="614" y="1019" style="font-size:10.5px">TF</text>
<circle class="up" cx="604" cy="1036" r="7"/><text class="lg" x="614" y="1036" style="font-size:10.5px">mRNA</text>
</g>
</svg>
